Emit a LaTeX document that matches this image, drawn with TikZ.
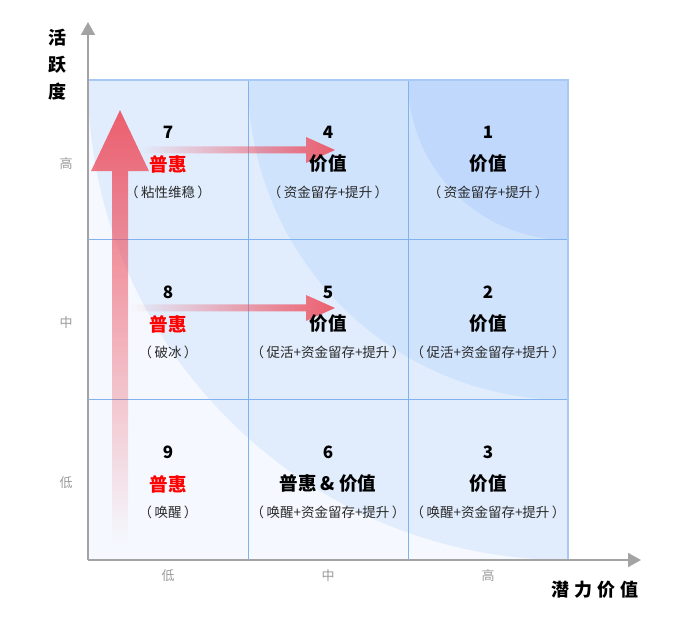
\documentclass[tikz,border=0pt]{standalone}
\usepackage{fontspec}
\setmainfont{Noto Sans CJK SC}
\usepackage{tikz}
\usetikzlibrary{
    positioning,
    arrows.meta,
    fadings
}
\definecolor{fondocero}{HTML}{F5F9FF}
\definecolor{fondouno}{HTML}{E1EDFD}
\definecolor{fondodos}{HTML}{D0E3FD}
\definecolor{fondotres}{HTML}{BFD8FC}
\definecolor{rejillaazul}{HTML}{80B2F0}
\definecolor{bordeazul}{HTML}{A9C9F5}
\definecolor{ejegris}{HTML}{A3A3A3}
\definecolor{marcagris}{HTML}{9A9A9A}
\definecolor{textogris}{HTML}{2A2A2A}
\definecolor{flecharoja}{HTML}{EE4B5A}
\definecolor{rojo}{HTML}{FF0000}
\tikzfading[name=haciaderecha, left color=transparent!100, right color=transparent!0]
\tikzfading[name=haciaarriba, top color=transparent!0, bottom color=transparent!100]
\newcommand{\entre}[1]{（\hspace{2.5pt}#1\hspace{2.5pt}）}
\tikzset{
    >=Stealth,
    eje/.style={
        draw=ejegris,
        line width=2pt,
        -{Triangle[length=13pt,width=14pt]}
    },
    rejilla/.style={draw=rejillaazul, line width=1pt},
    borde/.style={draw=bordeazul, line width=2pt},
    flecha/.style={fill=flecharoja, fill opacity=0.88, draw=none},
    numero/.style={font=\bfseries\fontsize{17}{18}\selectfont, inner sep=0pt},
    etiqueta/.style={font=\bfseries\fontsize{18.5}{20}\selectfont, inner sep=0pt},
    detalle/.style={font=\fontsize{13.5}{15}\selectfont, text=textogris, inner sep=0pt},
    marca/.style={font=\fontsize{13}{14}\selectfont, text=marcagris, inner sep=0pt},
    titulo/.style={font=\bfseries\fontsize{18}{27}\selectfont, inner sep=0pt, align=center}
}

\begin{document}
\begin{tikzpicture}[
    x=1pt,
    y=1pt
]
    \useasboundingbox (0,0) rectangle (700,637);

    % Fondo por zonas
    \coordinate (origen) at (88,77);
    \coordinate (esquina) at (568,557);
    \fill[fondocero] (origen) rectangle (esquina);
    \fill[fondouno] (esquina) -- ++(-480,0) arc[start angle=180, end angle=270, radius=480pt] -- cycle;
    \fill[fondodos] (esquina) -- ++(-320,0) arc[start angle=180, end angle=270, radius=320pt] -- cycle;
    \fill[fondotres] (esquina) -- ++(-160,0) arc[start angle=180, end angle=270, radius=160pt] -- cycle;

    % Rejilla
    \draw[rejilla] (248,77) -- (248,557);
    \draw[rejilla] (408,77) -- (408,557);
    \draw[rejilla] (88,397) -- (568,397);
    \draw[rejilla] (88,237) -- (568,237);
    \draw[borde] (88,557) -- (esquina) -- (568,77);

    % Ejes
    \coordinate (ytope) at (88,615);
    \coordinate (xfin) at (641,77);
    \draw[eje] (origen) -- (ytope);
    \draw[eje] (origen) -- (xfin);

    % Flechas rojas
    \coordinate (vbase) at (120,94);
    \coordinate (vpunta) at (120,527);
    \fill[flecha, path fading=haciaarriba]
        (vbase) ++(-8,0) -- ++(0,372) -- ++(-21,0) -- (vpunta)
        -- ++(29,-61) -- ++(-21,0) -- ++(0,-372) -- cycle;

    \coordinate (hbaseA) at (140,487);
    \coordinate (hpuntaA) at (335,487);
    \fill[flecha, path fading=haciaderecha]
        (hbaseA) ++(0,3.5) -- ++(166,0) -- ++(0,9.5) -- (hpuntaA)
        -- ++(-29,-13) -- ++(0,9.5) -- ++(-166,0) -- cycle;

    \coordinate (hbaseB) at (130,329);
    \coordinate (hpuntaB) at (335,329);
    \fill[flecha, path fading=haciaderecha]
        (hbaseB) ++(0,3.5) -- ++(176,0) -- ++(0,9.5) -- (hpuntaB)
        -- ++(-29,-13) -- ++(0,9.5) -- ++(-176,0) -- cycle;

    % Titulos de ejes
    \node[titulo] (tituloy) at (57,572) {活\\跃\\度};
    \node[titulo] (titulox) at (595,47) {潜\hspace{5pt}力\hspace{5pt}价\hspace{5pt}值};

    % Marcas
    \node[marca] (yalto)  at (66,473) {高};
    \node[marca] (ymedio) at (66,314) {中};
    \node[marca] (ybajo)  at (66,154) {低};
    \node[marca] (xbajo)  at (168,61) {低};
    \node[marca] (xmedio) at (328,61) {中};
    \node[marca] (xalto)  at (488,61) {高};

    % Fila alta
    \node[numero]              (n7) at (168,505) {7};
    \node[etiqueta, text=rojo] (l7) at (168,473) {普惠};
    \node[detalle]             (s7) at (168,445) {\entre{粘性维稳}};
    \node[numero]              (n4) at (328,505) {4};
    \node[etiqueta]            (l4) at (328,473) {价值};
    \node[detalle]             (s4) at (328,445) {\entre{资金留存+提升}};
    \node[numero]              (n1) at (488,505) {1};
    \node[etiqueta]            (l1) at (488,473) {价值};
    \node[detalle]             (s1) at (488,445) {\entre{资金留存+提升}};

    % Fila media
    \node[numero]              (n8) at (168,345) {8};
    \node[etiqueta, text=rojo] (l8) at (168,313) {普惠};
    \node[detalle]             (s8) at (168,285) {\entre{破冰}};
    \node[numero]              (n5) at (328,345) {5};
    \node[etiqueta]            (l5) at (328,313) {价值};
    \node[detalle]             (s5) at (328,285) {\entre{促活+资金留存+提升}};
    \node[numero]              (n2) at (488,345) {2};
    \node[etiqueta]            (l2) at (488,313) {价值};
    \node[detalle]             (s2) at (488,285) {\entre{促活+资金留存+提升}};

    % Fila baja
    \node[numero]              (n9) at (168,185) {9};
    \node[etiqueta, text=rojo] (l9) at (168,153) {普惠};
    \node[detalle]             (s9) at (168,125) {\entre{唤醒}};
    \node[numero]              (n6) at (328,185) {6};
    \node[etiqueta]            (l6) at (328,153) {普惠 \& 价值};
    \node[detalle]             (s6) at (328,125) {\entre{唤醒+资金留存+提升}};
    \node[numero]              (n3) at (488,185) {3};
    \node[etiqueta]            (l3) at (488,153) {价值};
    \node[detalle]             (s3) at (488,125) {\entre{唤醒+资金留存+提升}};

\end{tikzpicture}
\end{document}
